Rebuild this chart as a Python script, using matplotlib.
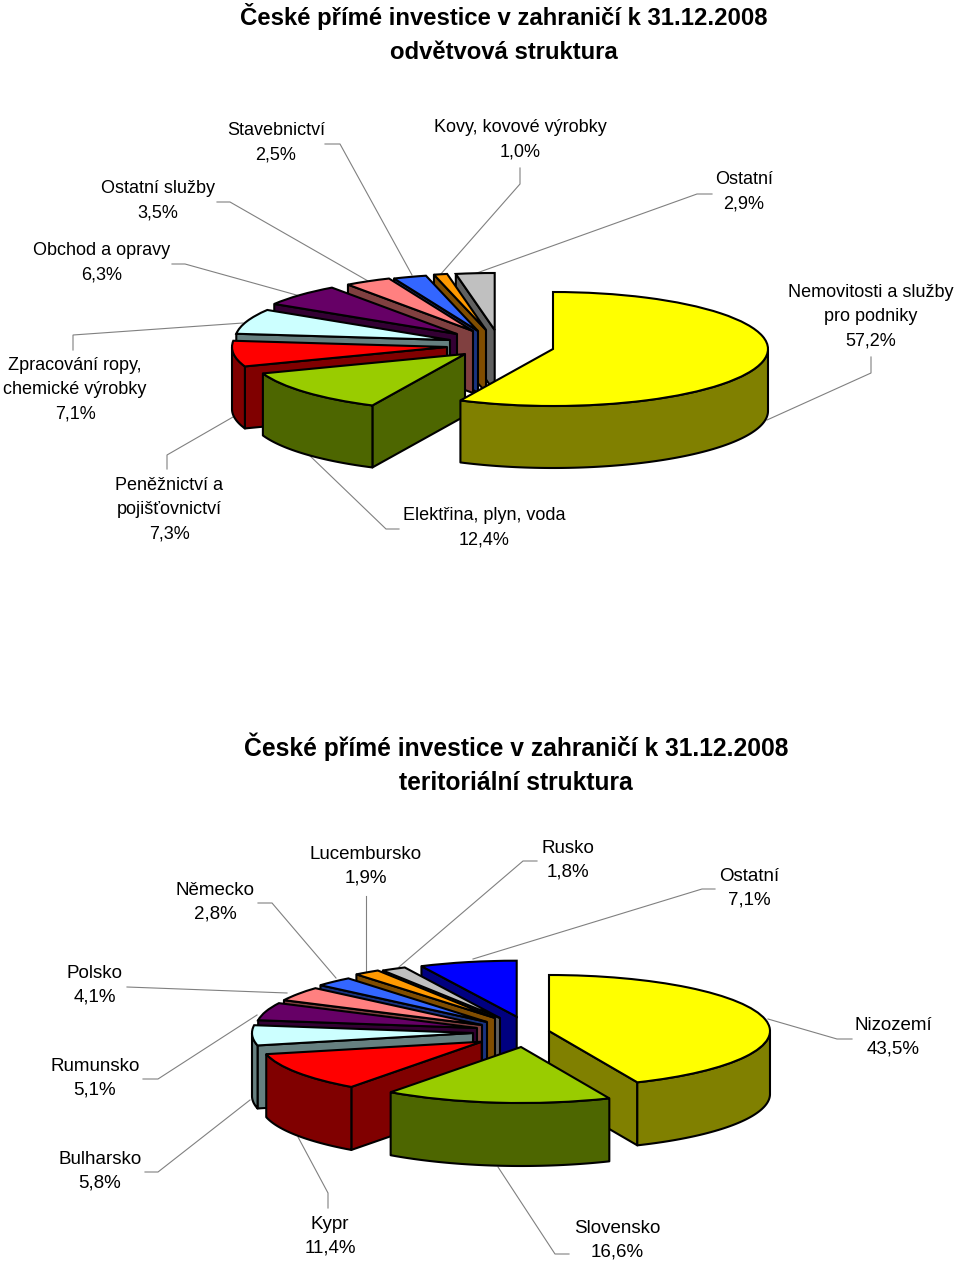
import numpy as np
import matplotlib
matplotlib.use("Agg")
import matplotlib.pyplot as plt
from matplotlib.patches import Polygon
from matplotlib.transforms import Affine2D

plt.rcParams['font.family'] = ['Liberation Sans', 'DejaVu Sans']

# ---- data ----
sector_labels = ["Nemovitosti a služby\npro podniky", "Elektřina, plyn, voda", "Peněžnictví a\npojišťovnictví",
                 "Zpracování ropy,\nchemické výrobky", "Obchod a opravy", "Ostatní služby",
                 "Stavebnictví", "Kovy, kovové výrobky", "Ostatní"]
sector_values = [57.2, 12.4, 7.3, 7.1, 6.3, 3.5, 2.5, 1.0, 2.9]

country_labels = ["Nizozemí", "Slovensko", "Kypr", "Bulharsko", "Rumunsko", "Polsko",
                  "Německo", "Lucembursko", "Rusko", "Ostatní"]
country_values = [43.5, 16.6, 11.4, 5.8, 5.1, 4.1, 2.8, 1.9, 1.8, 7.1]

title_top = "České přímé investice v zahraničí k 31.12.2008\nodvětvová struktura"
title_bottom = "České přímé investice v zahraničí k 31.12.2008\nteritoriální struktura"

# ---- styles ----
sector_colors = ['#FFFF00', '#99CC00', '#FF0000', '#CCFFFF', '#660066', '#FF8080', '#3366FF', '#FF9900', '#C0C0C0']
sector_sides = ['#808000', '#4D6600', '#800000', '#668080', '#330033', '#804040', '#1A3380', '#804D00', '#606060']
country_colors = ['#FFFF00', '#99CC00', '#FF0000', '#CCFFFF', '#660066', '#FF8080', '#3366FF', '#FF9900', '#C0C0C0', '#0000FF']
country_sides = ['#808000', '#4D6600', '#800000', '#668080', '#330033', '#804040', '#1A3380', '#804D00', '#606060', '#000080']

# ---- layout (pixels from the top-left corner) ----
W, H = 960, 1261
top_anchor = [(553, 349), (465, 354), (447, 347), (450, 340), (457, 334), (473, 331), (478, 331), (486, 330), (494.7, 330)]
bottom_anchor = [(549, 1031), (521, 1047), (481.7, 1041.7), (473, 1033), (477, 1028), (482, 1025), (487, 1022), (495, 1018), (500, 1018), (516.7, 1016.7)]
top_shape = (215, 57, 62)
bottom_shape = (221, 56, 63)
# stacking rank of the first (largest) slice: in front of everything on top, behind the green slice below
top_first_rank = 20
bottom_first_rank = 8.5

top_text_pos = [(871, 316.5), (484, 528), (169, 509.5), (75, 389.5), (102, 262.5), (158, 200.5), (276, 143), (520, 140), (744, 192)]
bottom_text_pos = [(893, 1037), (617, 1240), (330, 1236), (100, 1171), (95, 1078), (95, 985), (215, 902), (366, 866), (568, 860), (749, 888)]

top_leaders = [[(871, 357), (871, 373), (767, 420)], [(399, 529), (386, 529), (307, 453)],
               [(167, 469), (167, 455), (233, 417)], [(73, 350), (73, 335), (243, 323)],
               [(172, 264), (185, 264), (300, 296)], [(217, 202), (230, 202), (368, 281)],
               [(325, 144), (340, 144), (412, 275)], [(520, 168), (520, 184), (440, 275)],
               [(712, 194), (697, 194), (474, 274)]]
bottom_leaders = [[(852, 1039), (837, 1039), (768, 1019)], [(569, 1254), (555, 1254), (498, 1167)],
                  [(328, 1208), (328, 1193), (298, 1137)], [(145, 1172), (158, 1172), (250, 1100)],
                  [(143, 1079), (158, 1079), (257, 1015)], [(127, 987), (287, 993)],
                  [(258, 903), (272, 903), (336, 978)], [(366, 896), (366, 972)],
                  [(537, 861), (523, 861), (399, 967)], [(715, 889), (702, 889), (473, 959)]]

EDGE_LW = 1.5
TOP_LABEL_SIZE = 13.0
BOTTOM_LABEL_SIZE = 13.5
TOP_TITLE_SIZE = 17.2
BOTTOM_TITLE_SIZE = 17.7

fig = plt.figure(figsize=(W / 100, H / 100), dpi=100, facecolor='white')
ax = fig.add_axes([0, 0, 1, 1])


def draw_pie(values, colors, sides, anchors, shape, first_rank):
    rx, ry, depth = shape
    wedges, _ = ax.pie(values, colors=colors, startangle=90, counterclock=False, frame=True,
                       wedgeprops=dict(edgecolor='black', linewidth=EDGE_LW))
    for i, w in enumerate(wedges):
        vx, vy = anchors[i]
        z = 3 + (first_rank if i == 0 else len(values) - i)
        w.set_transform(Affine2D().scale(rx, -ry).translate(vx, vy) + ax.transData)
        w.set_clip_on(False)
        w.set_zorder(z + 0.25)

        def pt(t):
            r = np.radians(t)
            return vx + rx * np.cos(r), vy - ry * np.sin(r)

        def add_side(pts):
            ax.add_patch(Polygon(pts, closed=True, facecolor=sides[i], edgecolor='black',
                                 linewidth=EDGE_LW, joinstyle='round', zorder=z, clip_on=False))

        t1, t2 = w.theta1, w.theta2
        for t, visible in ((t1, np.cos(np.radians(t1)) > 1e-6), (t2, np.cos(np.radians(t2)) < -1e-6)):
            if visible:
                px, py = pt(t)
                add_side([(vx, vy), (px, py), (px, py + depth), (vx, vy + depth)])
        ts = np.linspace(t1, t2, 160)
        ts = ts[np.sin(np.radians(ts)) < 0]
        if len(ts) > 1:
            upper = [pt(t) for t in ts]
            lower = [(x, y + depth) for x, y in upper[::-1]]
            add_side(upper + lower)


draw_pie(sector_values, sector_colors, sector_sides, top_anchor, top_shape, top_first_rank)
draw_pie(country_values, country_colors, country_sides, bottom_anchor, bottom_shape, bottom_first_rank)

ax.set_aspect('auto')
ax.set_xlim(0, W)
ax.set_ylim(H, 0)
ax.axis('off')


def fmt(v):
    return f"{v:.1f}".replace('.', ',') + "%"


def annotate(labels, values, positions, leaders, size):
    for lab, val, (x, y), pts in zip(labels, values, positions, leaders):
        ax.text(x, y, f"{lab}\n{fmt(val)}", ha='center', va='center', fontsize=size,
                linespacing=1.55 * 13.2 / size, color='black', zorder=40)
        xs, ys = zip(*pts)
        ax.plot(xs, ys, color='#808080', lw=0.8, zorder=1, solid_joinstyle='miter')


annotate(sector_labels, sector_values, top_text_pos, top_leaders, TOP_LABEL_SIZE)
annotate(country_labels, country_values, bottom_text_pos, bottom_leaders, BOTTOM_LABEL_SIZE)

ax.text(504, 33.5, title_top, ha='center', va='center', fontsize=TOP_TITLE_SIZE, fontweight='bold',
        linespacing=1.56, zorder=40)
ax.text(516, 763.5, title_bottom, ha='center', va='center', fontsize=BOTTOM_TITLE_SIZE, fontweight='bold',
        linespacing=1.52, zorder=40)

fig.savefig('out.png', dpi=100, facecolor='white')
